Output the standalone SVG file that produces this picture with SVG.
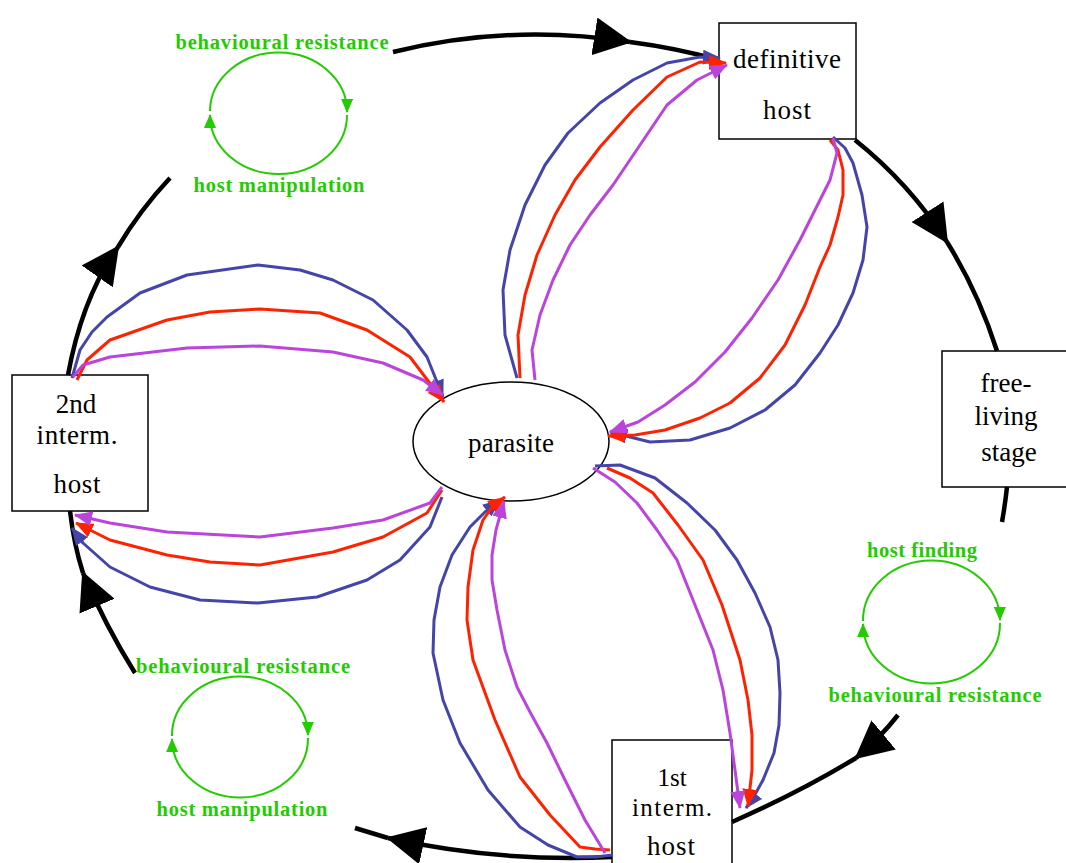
<svg xmlns="http://www.w3.org/2000/svg" width="1066" height="863" viewBox="0 0 1066 863">
<style>
.box{fill:#fff;stroke:#000;stroke-width:1.5}
.lbl{font-family:"Liberation Serif","Times New Roman",serif;font-size:27px;fill:#000;text-anchor:middle}
.sm{font-size:25px}
.gt{font-family:"Liberation Serif","Times New Roman",serif;font-size:20.5px;font-weight:bold;fill:#22cc00;text-anchor:middle}
.cyc{fill:none;stroke:#000;stroke-width:4.5}
.cyca{fill:none;stroke:#000;stroke-width:4.5;marker-end:url(#abig)}
.gl{fill:none;stroke:#22cc00;stroke-width:2;marker-end:url(#ag)}
.b{fill:none;stroke:#4444aa;stroke-width:3;stroke-linejoin:round;marker-end:url(#ab)}
.r{fill:none;stroke:#ff2200;stroke-width:3;stroke-linejoin:round;marker-end:url(#ar)}
.p{fill:none;stroke:#bb44dd;stroke-width:3;stroke-linejoin:round;marker-end:url(#ap)}
</style>
<defs>
<marker id="abig" viewBox="0 0 38 38" refX="36" refY="19" markerWidth="38" markerHeight="38" markerUnits="userSpaceOnUse" orient="auto"><path d="M0,0 L38,19 L0,38 z" fill="#000"/></marker>
<marker id="ag" viewBox="0 0 14 12" refX="13" refY="6" markerWidth="14" markerHeight="12" markerUnits="userSpaceOnUse" orient="auto"><path d="M0,0 L14,6 L0,12 z" fill="#22cc00"/></marker>
<marker id="ab" viewBox="0 0 18 15" refX="17" refY="7.5" markerWidth="18" markerHeight="15" markerUnits="userSpaceOnUse" orient="auto"><path d="M0,0 L18,7.5 L0,15 z" fill="#4444aa"/></marker>
<marker id="ar" viewBox="0 0 18 15" refX="17" refY="7.5" markerWidth="18" markerHeight="15" markerUnits="userSpaceOnUse" orient="auto"><path d="M0,0 L18,7.5 L0,15 z" fill="#ff2200"/></marker>
<marker id="ap" viewBox="0 0 18 15" refX="17" refY="7.5" markerWidth="18" markerHeight="15" markerUnits="userSpaceOnUse" orient="auto"><path d="M0,0 L18,7.5 L0,15 z" fill="#bb44dd"/></marker>
</defs>
<rect width="1066" height="863" fill="#fff"/>

<g id="definitive-host">
<rect class="box" x="719" y="23" width="137" height="116"/>
<text class="lbl" x="787" y="68" textLength="108">definitive</text>
<text class="lbl" x="787" y="119" textLength="48">host</text>
</g>
<g id="free-living-stage">
<rect class="box" x="942" y="351" width="126" height="136"/>
<text class="lbl" x="1006" y="392">free-</text>
<text class="lbl" x="1006" y="425">living</text>
<text class="lbl" x="1009" y="461">stage</text>
</g>
<g id="second-interm-host">
<rect class="box" x="12" y="375" width="136" height="136"/>
<text class="lbl" x="76" y="413">2nd</text>
<text class="lbl" x="77" y="444" textLength="81">interm.</text>
<text class="lbl" x="77" y="493" textLength="47">host</text>
</g>
<g id="first-interm-host">
<rect class="box" x="612" y="740" width="120" height="135"/>
<text class="lbl sm" x="672" y="786">1st</text>
<text class="lbl sm" x="672" y="816" textLength="80">interm.</text>
<text class="lbl" x="671" y="855" textLength="48">host</text>
</g>
<g id="parasite">
<ellipse cx="511" cy="441.5" rx="98" ry="59.5" fill="#fff" stroke="#000" stroke-width="1.5"/>
<text class="lbl" x="511" y="452" textLength="86">parasite</text>
</g>

<g id="loop-top-left">
<text class="gt" x="282" y="49" textLength="213">behavioural resistance</text>
<path class="gl" d="M210,111 A68.5,59 0 0 1 347,112"/>
<path class="gl" d="M347,115 A68.5,59 0 0 1 210,115"/>
<text class="gt" x="279" y="192" textLength="171">host manipulation</text>
</g>
<g id="loop-bottom-left">
<text class="gt" x="243" y="673" textLength="214">behavioural resistance</text>
<path class="gl" d="M172,736 A68,59 0 0 1 308,735"/>
<path class="gl" d="M308,738 A68,59 0 0 1 172,739"/>
<text class="gt" x="242" y="816" textLength="171">host manipulation</text>
</g>
<g id="loop-right">
<text class="gt" x="922" y="557" textLength="110">host finding</text>
<path class="gl" d="M863,621 A68.5,60 0 0 1 1000,620"/>
<path class="gl" d="M1000,623 A68.5,60 0 0 1 863,624"/>
<text class="gt" x="935" y="702" textLength="213">behavioural resistance</text>
</g>

<g id="connectors">
<g id="life-cycle">
<path class="cyca" d="M393,52 Q510.5,23 630,42"/>
<path class="cyc" d="M630,42 Q676,48 719,60"/>
<path class="cyca" d="M855,140 Q909,183 947,242"/>
<path class="cyc" d="M947,242 Q978,291.5 997,351"/>
<path class="cyc" d="M1007,487 Q1005,505 1002,522"/>
<path class="cyca" d="M898,715 Q880,738 856,758"/>
<path class="cyc" d="M856,758 Q800,792 732,822"/>
<path class="cyca" d="M612,857 Q500,862.5 388,838"/>
<path class="cyc" d="M388,838 L355,828"/>
<path class="cyca" d="M135,673 Q105,625 83,573"/>
<path class="cyc" d="M83,573 Q74,545 70,511"/>
<path class="cyca" d="M68,375 Q82,298 118,247"/>
<path class="cyc" d="M118,247 Q140,210 170,178"/>
</g>
<g id="host2-parasite">
<path class="b" d="M72,378 L80,350 L92,332 L107,317 L140,293 L187,275 L258,265 L300,270 L333,280 L373,300 L407,330 L427,357 L443,397"/>
<path class="r" d="M77,380 L87,360 L110,340 L167,320 L210,312 L260,309 L320,313 L367,330 L410,357 L444,402"/>
<path class="p" d="M73,377 L83,365 L110,357 L187,348 L260,346 L333,352 L383,363 L423,380 L443,395"/>
<path class="b" d="M442,497 L430,527 L400,560 L367,580 L317,597 L258,603 L200,600 L150,587 L110,567 L83,543 L72,528"/>
<path class="r" d="M442,490 L427,513 L383,537 L333,552 L260,565 L210,562 L167,555 L110,540 L76,523"/>
<path class="p" d="M442,487 L430,503 L383,520 L333,528 L260,537 L167,532 L110,523 L75,515"/>
</g>
<g id="parasite-definitive">
<path class="b" d="M517,378 L505,335 L503,290 L510,250 L525,205 L545,165 L568,133 L600,103 L633,80 L667,63 L700,57 L720,58"/>
<path class="r" d="M520,378 L518,335 L525,295 L537,255 L555,215 L575,180 L600,147 L633,110 L667,77 L700,62 L726,63"/>
<path class="p" d="M535,380 L532,350 L540,315 L553,280 L570,245 L590,215 L613,185 L640,145 L667,105 L697,80 L727,65"/>
<path class="b" d="M833,137 L845,148 L853,163 L862,195 L867,227 L863,260 L853,293 L838,325 L820,353 L795,385 L765,410 L730,428 L690,440 L650,442 L610,432"/>
<path class="r" d="M830,140 L838,150 L843,170 L843,195 L838,217 L830,245 L820,267 L805,305 L785,345 L760,378 L730,403 L700,418 L665,430 L635,435 L608,436"/>
<path class="p" d="M833,138 L837,153 L830,180 L820,200 L800,240 L778,280 L752,318 L725,352 L695,382 L665,405 L638,422 L610,432"/>
</g>
<g id="parasite-host1">
<path class="b" d="M595,466 L620,465 L655,478 L687,503 L715,530 L737,560 L755,593 L770,627 L778,660 L780,693 L779,725 L774,753 L763,780 L752,800 L746,808"/>
<path class="r" d="M607,468 L630,478 L653,493 L678,525 L703,560 L722,605 L740,660 L748,700 L752,735 L752,770 L748,806"/>
<path class="p" d="M593,468 L615,482 L637,503 L657,530 L677,560 L695,605 L713,650 L723,690 L730,733 L735,770 L740,808"/>
<path class="b" d="M613,855 L595,857 L577,857 L548,845 L520,827 L488,790 L460,743 L443,700 L433,653 L434,620 L440,587 L452,555 L470,527 L485,512 L500,500"/>
<path class="r" d="M610,850 L595,849 L580,847 L550,815 L520,777 L495,720 L473,660 L467,620 L468,587 L473,550 L483,520 L493,506 L505,497"/>
<path class="p" d="M605,853 L585,820 L565,780 L547,743 L530,712 L517,687 L505,650 L497,610 L492,580 L492,555 L496,530 L504,501"/>
</g>
</g>
</svg>
